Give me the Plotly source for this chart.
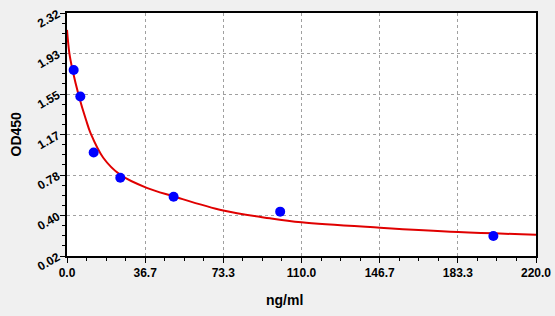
import plotly.graph_objects as go

# Standard points (concentration ng/ml, OD450)
std_conc = [3.125, 6.25, 12.5, 25, 50, 100, 200]
std_od = [1.78, 1.53, 1.00, 0.76, 0.58, 0.44, 0.21]

# Fitted curve
curve_x = [0, 1.1, 2.6, 5.5, 8.9, 11.1, 17, 24.9, 37.4, 49.9, 73.3, 95.2, 110, 146.8, 183.5, 220]
curve_y = [2.16, 1.94, 1.78, 1.54, 1.31, 1.18, 0.95, 0.79, 0.665, 0.585, 0.45, 0.377, 0.339, 0.288, 0.247, 0.222]

x_ticks = [0, 220/6, 440/6, 110, 880/6, 1100/6, 220]
x_labels = ["0.0", "36.7", "73.3", "110.0", "146.7", "183.3", "220.0"]
y_ticks = [0.02 + i * 2.3 / 6 for i in range(7)]
y_labels = ["0.02", "0.40", "0.78", "1.17", "1.55", "1.93", "2.32"]

FONT = "Liberation Sans, Arial, sans-serif"

fig = go.Figure()
fig.add_trace(go.Scatter(x=curve_x, y=curve_y, mode="lines",
                         line=dict(color="#E00000", width=2, shape="spline", smoothing=1.0),
                         hoverinfo="skip", showlegend=False))
fig.add_trace(go.Scatter(x=std_conc, y=std_od, mode="markers",
                         marker=dict(color="#0000FF", size=10), showlegend=False))

axis_common = dict(
    showline=True, linecolor="black", linewidth=1.5, mirror=True,
    ticks="outside", ticklen=5, tickcolor="black", tickwidth=1,
    showgrid=True, gridcolor="#A0A0A0", griddash="3px,3px", gridwidth=1,
    zeroline=False, automargin=False,
    tickfont=dict(family=FONT, size=12, color="black", weight="bold"),
)

fig.update_xaxes(range=[0, 220], tickmode="array", tickvals=x_ticks, ticktext=x_labels,
                 minor=dict(tickmode="linear", tick0=0, dtick=220/24, ticks="outside",
                            ticklen=3, tickcolor="black", showgrid=False),
                 **axis_common)
fig.update_yaxes(range=[0.02, 2.32], tickmode="array", tickvals=y_ticks, ticktext=y_labels,
                 tickangle=-30,
                 minor=dict(tickmode="linear", tick0=0.02, dtick=2.3/24, ticks="outside",
                            ticklen=3, tickcolor="black", showgrid=False),
                 **axis_common)

fig.add_annotation(text="ng/ml", xref="paper", yref="paper", x=(284-67)/469, y=-(300-256)/243,
                   showarrow=False, xanchor="center", yanchor="middle",
                   font=dict(family=FONT, size=14, color="black", weight="bold"))
fig.add_annotation(text="OD450", xref="paper", yref="paper", x=-(67-15)/469, y=0.5,
                   showarrow=False, xanchor="center", yanchor="middle", textangle=-90,
                   font=dict(family=FONT, size=14, color="black", weight="bold"))

fig.update_layout(
    width=555, height=316,
    margin=dict(l=67, r=19, t=13, b=60),
    paper_bgcolor="#F0F0F0", plot_bgcolor="white",
    showlegend=False,
)

fig.write_html("out.html")
